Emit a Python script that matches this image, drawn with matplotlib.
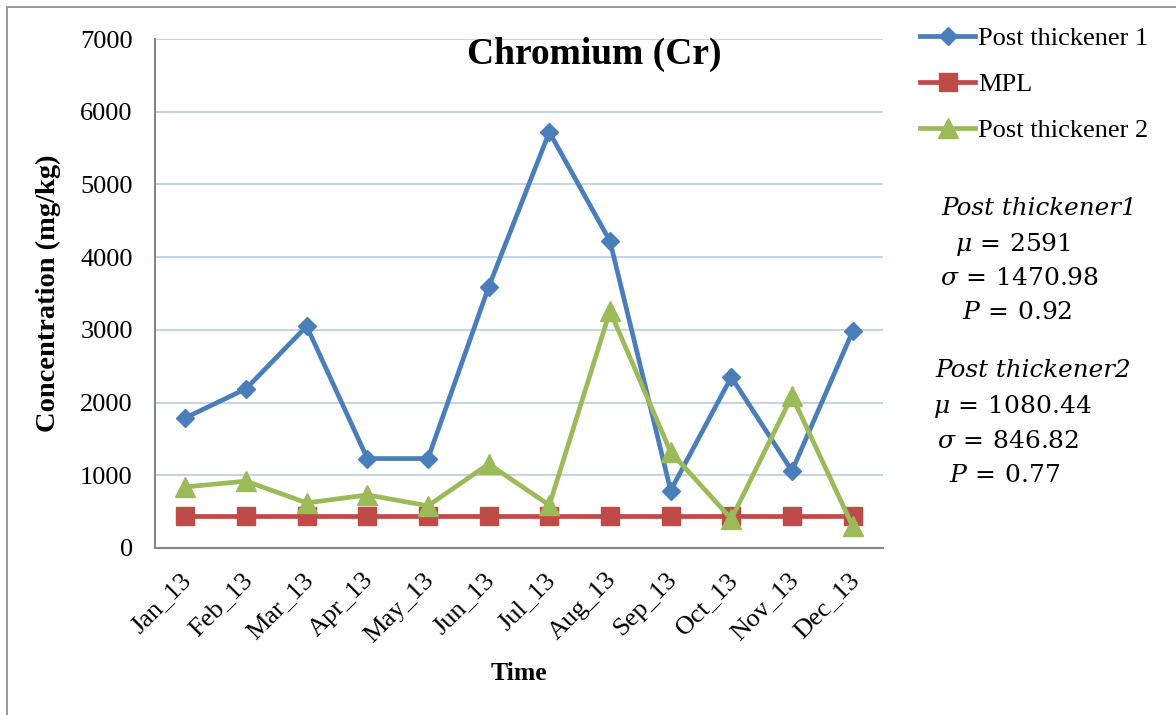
import matplotlib
matplotlib.use("Agg")
import matplotlib.pyplot as plt
from matplotlib.patches import Rectangle
from matplotlib.transforms import ScaledTranslation

months = ["Jan_13", "Feb_13", "Mar_13", "Apr_13", "May_13", "Jun_13",
          "Jul_13", "Aug_13", "Sep_13", "Oct_13", "Nov_13", "Dec_13"]
post_thickener_1 = [1790, 2190, 3050, 1230, 1230, 3590, 5720, 4220, 790, 2350, 1060, 2980]
mpl_limit = [440, 440, 440, 440, 440, 440, 440, 440, 440, 440, 440, 440]
post_thickener_2 = [840, 920, 620, 730, 580, 1155, 590, 3260, 1320, 400, 2090, 300]
y_ticks = [0, 1000, 2000, 3000, 4000, 5000, 6000, 7000]

plt.rcParams['mathtext.fontset'] = 'dejavuserif'
serif = 'Liberation Serif'

W, H = 1176, 715
fig = plt.figure(figsize=(W / 100, H / 100), dpi=100)
ax = fig.add_axes([155 / W, 1 - 548 / H, (883 - 155) / W, (548 - 39) / H])

x = list(range(len(months)))
lw = 3.4
ax.plot(x, post_thickener_1, color='#4a7ebb', lw=lw, marker='D', ms=9.5,
        label='Post thickener 1', zorder=4)
ax.plot(x, mpl_limit, color='#be4b48', lw=lw, marker='s', ms=13.5,
        label='MPL', zorder=3)
ax.plot(x, post_thickener_2, color='#9bbb59', lw=lw, marker='^', ms=14,
        label='Post thickener 2', zorder=5)

ax.set_xlim(-0.5, len(months) - 0.5)
ax.set_ylim(0, 7000)
ax.set_yticks(y_ticks)
ax.set_yticklabels([str(v) for v in y_ticks], fontfamily=serif, fontsize=19)
ax.set_xticks(x)
ax.set_xticklabels(months, fontfamily=serif, fontsize=19, rotation=45,
                   ha='right', rotation_mode='anchor')
ax.tick_params(axis='y', length=0, pad=16)
ax.tick_params(axis='x', length=0, pad=15)
offset = ScaledTranslation(-5 / 100, 0, fig.dpi_scale_trans)
for lbl in ax.get_xticklabels():
    lbl.set_transform(lbl.get_transform() + offset)
ax.grid(axis='y', color='#b9cde5', lw=1.2)
ax.set_axisbelow(True)
for s in ['top', 'right']:
    ax.spines[s].set_visible(False)
for s in ['left', 'bottom']:
    ax.spines[s].set_color('#868686')
    ax.spines[s].set_linewidth(1.5)

fig.text(594 / W, 1 - 64 / H, 'Chromium (Cr)', fontfamily=serif, fontweight='bold',
         fontsize=27, ha='center', va='baseline')
fig.text(519 / W, 1 - 673 / H, 'Time', fontfamily=serif, fontweight='bold',
         fontsize=18.5, ha='center', va='center')
fig.text(48 / W, 1 - 293 / H, 'Concentration (mg/kg)', fontfamily=serif,
         fontweight='bold', fontsize=20.5, ha='center', va='center', rotation=90)

leg = fig.legend(loc='upper left', bbox_to_anchor=(920 / W, 1 - 27 / H),
                 prop={'family': serif, 'size': 19}, frameon=False,
                 handlelength=2.1, handletextpad=0.1, labelspacing=0.84,
                 borderaxespad=0, borderpad=0)

ann = [
    (941, 215, 'Post thickener1', 'it'),
    (955, 251, r'$\mu\,=\,2591$', 'm'),
    (940, 285, r'$\sigma\,=\,1470.98$', 'm'),
    (962, 319, r'$P\,=\,0.92$', 'm'),
    (935, 377, 'Post thickener2', 'it'),
    (933, 413, r'$\mu\,=\,1080.44$', 'm'),
    (937, 448, r'$\sigma\,=\,846.82$', 'm'),
    (949, 482, r'$P\,=\,0.77$', 'm'),
]
for px, py, txt, kind in ann:
    if kind == 'it':
        fig.text(px / W, 1 - py / H, txt, fontfamily='DejaVu Serif', style='italic',
                 fontsize=17.7, ha='left', va='baseline')
    else:
        fig.text(px / W, 1 - py / H, txt, fontsize=18, ha='left', va='baseline')

fig.patches.append(Rectangle((7 / W, -0.1), 1.2, 1.1 - 7 / H, transform=fig.transFigure,
                             fill=False, edgecolor='#888888', lw=1.2))

fig.savefig('out.png', dpi=100)
